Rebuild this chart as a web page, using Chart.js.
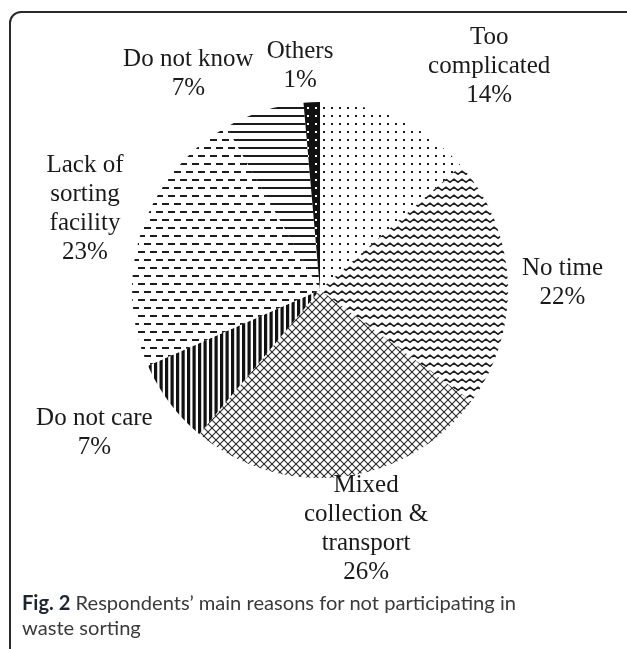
<!DOCTYPE html>
<html>
<head>
<meta charset="utf-8">
<script src="https://cdn.jsdelivr.net/npm/chart.js@4.4.1/dist/chart.umd.min.js"></script>
<style>
  html, body { margin: 0; padding: 0; background: #fff; overflow: hidden; }
  #wrap { position: relative; width: 627px; height: 649px; }
  #frame { position: absolute; left: 9px; top: 11px; width: 640px; height: 720px;
           border: 2px solid #2a2a2a; border-radius: 12px; box-sizing: border-box; }
  #c { position: absolute; left: 0; top: 0; }
  #caption { position: absolute; left: 22px; top: 590px; font-family: Lato, "Open Sans", sans-serif;
             font-size: 20px; line-height: 25px; color: #3a3a3a; white-space: nowrap; transform-origin: 0 0; }
  #caption b { color: #1e2530; font-weight: 700; }
</style>
</head>
<body>
<div id="wrap">
  <div id="frame"></div>
  <canvas id="c" width="627" height="649"></canvas>
  <div id="caption"><span id="cap1"><b>Fig. 2</b> Respondents’ main reasons for not participating in</span><br><span>waste sorting</span></div>
</div>
<script>
// ---- data ----
const categories = ["Too complicated", "No time", "Mixed collection & transport", "Do not care",
                    "Lack of sorting facility", "Do not know", "Others"];
const labelLines = [["Too", "complicated"], ["No time"], ["Mixed", "collection &", "transport"],
                    ["Do not care"], ["Lack of", "sorting", "facility"], ["Do not know"], ["Others"]];
const shares = [13.5, 21.6, 26.0, 7.3, 23.3, 6.9, 1.4];

// ---- layout / style (label block centres relative to pie centre, in radii) ----
const labelOffsets = [[0.90, -1.19], [1.29, -0.04], [0.245, 1.27], [-1.20, 0.76],
                      [-1.25, -0.43], [-0.70, -1.15], [-0.106, -1.19]];

function tile(w, h, draw) {
  const cv = document.createElement('canvas');
  cv.width = w; cv.height = h;
  const g = cv.getContext('2d');
  g.fillStyle = '#fff'; g.fillRect(0, 0, w, h);
  draw(g, w, h);
  return document.getElementById('c').getContext('2d').createPattern(cv, 'repeat');
}
const ink = '#1c1c1c';
const patterns = [
  // dots
  tile(8, 8, g => { g.fillStyle = ink; g.fillRect(3, 3, 2, 2); }),
  // waves
  tile(8, 8, g => {
    g.strokeStyle = ink; g.lineWidth = 1.5;
    g.beginPath(); g.moveTo(-2, 3.2); g.lineTo(2, 6.2); g.lineTo(6, 3.2); g.lineTo(10, 6.2); g.stroke();
  }),
  // cross hatch
  tile(8, 8, g => {
    g.strokeStyle = '#2a2a2a'; g.lineWidth = 1.1;
    for (let k = -8; k <= 8; k += 8) {
      g.beginPath(); g.moveTo(k, 0); g.lineTo(k + 8, 8); g.stroke();
      g.beginPath(); g.moveTo(k + 8, 0); g.lineTo(k, 8); g.stroke();
    }
  }),
  // vertical stripes
  tile(11, 4, g => { g.fillStyle = '#111'; g.fillRect(0, 0, 3.2, 4); g.fillRect(5.5, 0, 3.2, 4); }),
  // dashes
  tile(12, 16, g => {
    g.fillStyle = ink;
    g.fillRect(0, 3, 7, 2);
    g.fillRect(6, 11, 6, 2); g.fillRect(0, 11, 1, 2);
  }),
  // horizontal lines
  tile(4, 8, g => { g.fillStyle = ink; g.fillRect(0, 3, 4, 2); }),
  // black with white dots
  tile(8, 8, g => { g.fillStyle = '#111'; g.fillRect(0, 0, 8, 8); g.fillStyle = '#fff'; g.fillRect(3, 3, 2, 2); })
];

const labelPlugin = {
  id: 'pieLabels',
  afterDraw(chart) {
    const arcs = chart.getDatasetMeta(0).data;
    const ctx = chart.ctx;
    const cx = arcs[0].x, cy = arcs[0].y, r = arcs[0].outerRadius;
    const vals = chart.data.datasets[0].data;
    ctx.save();
    ctx.font = '25px "Liberation Serif", "Times New Roman", serif';
    ctx.fillStyle = '#1a1a1a';
    ctx.textAlign = 'center';
    ctx.textBaseline = 'middle';
    const lh = 29;
    vals.forEach((v, i) => {
      const lines = labelLines[i].concat([Math.round(v) + '%']);
      const bx = cx + labelOffsets[i][0] * r;
      const by = cy + labelOffsets[i][1] * r;
      const top = by - (lines.length - 1) * lh / 2;
      lines.forEach((t, j) => ctx.fillText(t, bx, top + j * lh));
    });
    ctx.restore();
  }
};

new Chart(document.getElementById('c'), {
  type: 'pie',
  data: {
    labels: categories,
    datasets: [{
      data: shares,
      backgroundColor: patterns,
      borderWidth: 0, hoverBorderWidth: 0, offset: 0, hoverOffset: 0
    }]
  },
  options: {
    responsive: false,
    animation: false,
    events: [],
    layout: { padding: { left: 132, top: 102, right: 119, bottom: 171 } },
    plugins: { legend: { display: false }, tooltip: { enabled: false }, title: { display: false } }
  },
  plugins: [labelPlugin]
});

// fit caption line 1 to the width it has in the figure
const cap1 = document.getElementById('cap1');
const w1 = cap1.getBoundingClientRect().width;
document.getElementById('caption').style.transform = 'scaleX(' + (494 / w1) + ')';
</script>
</body>
</html>
